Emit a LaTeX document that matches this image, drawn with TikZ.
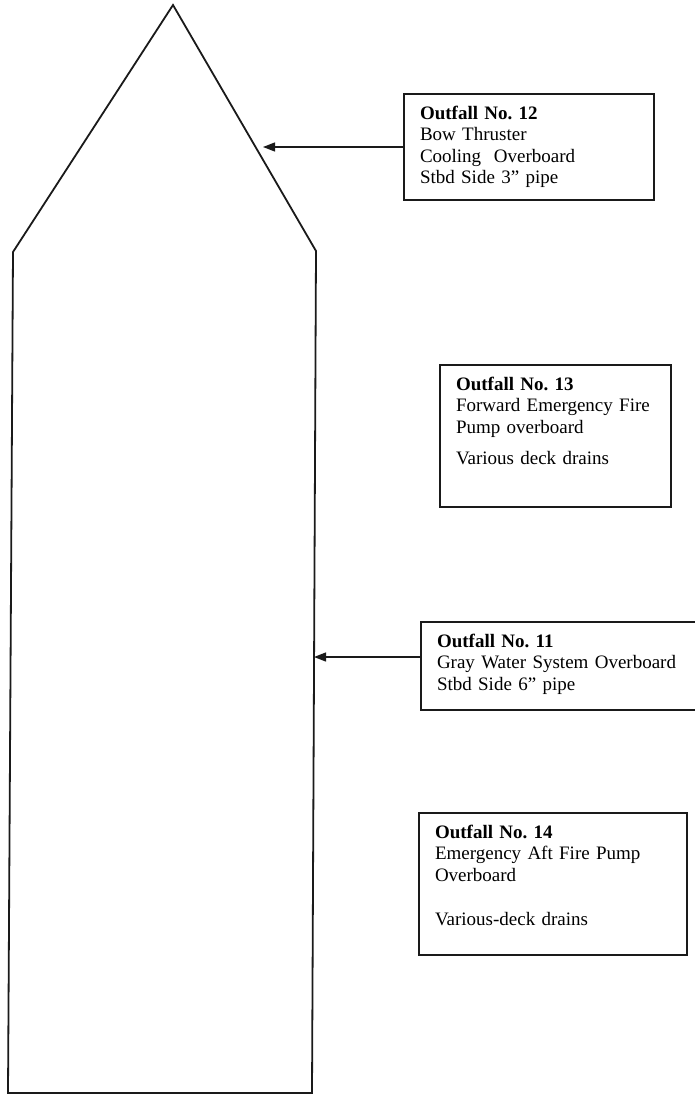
\documentclass[tikz,border=0pt]{standalone}
\usepackage{fontspec}
\setmainfont{Liberation Serif}
\usetikzlibrary{arrows.meta}
\definecolor{inkgray}{HTML}{1A1A1A}
\frenchspacing
\tikzset{
  hull/.style={draw=inkgray, line width=1.8pt, line join=miter},
  outfall/.style={draw=inkgray, line width=1.3pt, anchor=north west, outer sep=0pt, align=left, inner xsep=16pt, inner ysep=0pt, text height=25pt, font=\fontsize{19}{21.5}\selectfont},
  arrow/.style={-{Triangle[length=12pt,width=9pt]}, line width=1.3pt, draw=inkgray}
}
\begin{document}
\begin{tikzpicture}[x=1pt,y=-1pt]
  \useasboundingbox (0,0) rectangle (694,1095);

  % hull outline
  \coordinate (bow) at (173,5);
  \coordinate (portfwd) at (13,252);
  \coordinate (portaft) at (8,1093);
  \coordinate (stbdaft) at (312,1093);
  \coordinate (stbdfwd) at (316,251);
  \draw[hull] (bow) -- (portfwd) -- (portaft) -- (stbdaft) -- (stbdfwd) -- cycle;

  % outfall boxes
  \node[outfall, text width=218pt, text depth=81pt] (of12) at (404,94) {\textbf{Outfall No. 12}\\Bow Thruster\\Cooling\ \ Overboard\\Stbd Side 3” pipe};
  \node[outfall, text width=199pt, text depth=117pt] (of13) at (440,365) {\textbf{Outfall No. 13}\\Forward Emergency Fire\\Pump overboard\\[9.5pt]Various deck drains};
  \node[outfall, text width=248pt, text depth=63pt] (of11) at (421,622) {\textbf{Outfall No. 11}\\Gray Water System Overboard\\Stbd Side 6” pipe};
  \node[outfall, text width=236pt, text depth=117pt] (of14) at (419,813) {\textbf{Outfall No. 14}\\Emergency Aft Fire Pump\\Overboard\\[22.5pt]Various-deck drains};

  % discharge points
  \coordinate (dp12) at (263,147);
  \coordinate (dp11) at (314,657);
  \draw[arrow] (of12.west |- dp12) -- (dp12);
  \draw[arrow] (of11.west |- dp11) -- (dp11);
\end{tikzpicture}
\end{document}
